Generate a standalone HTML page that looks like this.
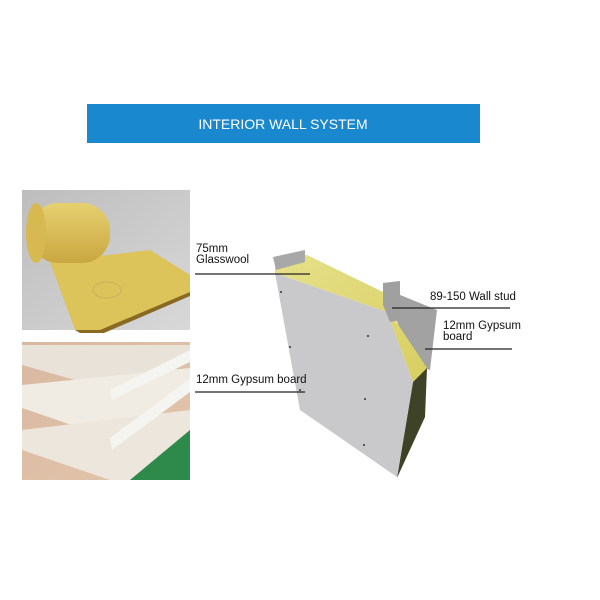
<!DOCTYPE html>
<html><head><style>
body{margin:0;width:600px;height:600px;background:#fff;overflow:hidden}
svg{display:block}
text{font-family:"Liberation Sans",sans-serif}
</style></head><body>
<svg width="600" height="600" viewBox="0 0 600 600">
<defs>
<linearGradient id="bg1" x1="0" y1="0" x2="1" y2="1"><stop offset="0" stop-color="#bdbdbd"/><stop offset="1" stop-color="#d8d8d8"/></linearGradient>
<linearGradient id="roll" x1="0" y1="0" x2="0" y2="1"><stop offset="0" stop-color="#e6d070"/><stop offset="1" stop-color="#c9a740"/></linearGradient>
<linearGradient id="gyp" x1="0" y1="0" x2="1" y2="1"><stop offset="0" stop-color="#d8b8a0"/><stop offset="1" stop-color="#e4c6ad"/></linearGradient>
<linearGradient id="yl" x1="0" y1="0" x2="1" y2="1"><stop offset="0" stop-color="#e6e08a"/><stop offset="1" stop-color="#d8cf60"/></linearGradient>
</defs>
<rect x="87" y="104" width="393" height="39" fill="#1a88cf"/>
<text x="283" y="129" font-size="14" fill="#fff" text-anchor="middle">INTERIOR WALL SYSTEM</text>
<!-- glasswool photo -->
<rect x="22" y="190" width="168" height="140" fill="url(#bg1)"/>
<polygon points="50,262 150,250 190,275 190,292 100,330 75,330" fill="#dcc45a"/>
<polygon points="75,330 100,330 190,292 190,296 104,333 80,333" fill="#8a6a20"/>
<rect x="30" y="203" width="80" height="60" rx="28" fill="url(#roll)"/>
<ellipse cx="36" cy="233" rx="10" ry="30" fill="#d8b850"/>
<ellipse cx="107" cy="290" rx="14" ry="8" fill="none" stroke="#c8b060"/>
<!-- gypsum photo -->
<rect x="22" y="342" width="168" height="138" fill="url(#gyp)"/>
<polygon points="22,345 190,345 190,350 110,390 22,365" fill="#e8e2d8"/>
<polygon points="22,385 190,368 190,378 110,438 22,408" fill="#f0ebe3"/>
<polygon points="22,430 190,410 190,480 110,480 22,450" fill="#ece6dc"/>
<polygon points="110,390 190,350 190,362 112,400" fill="#f4f4f0"/>
<polygon points="110,438 190,378 190,392 112,450" fill="#f4f4f0"/>
<polygon points="130,480 190,430 190,480" fill="#2e8a4a"/>
<!-- wall -->
<polygon points="383,288 437,310 430,370 415,365" fill="#a2a2a2"/>
<polygon points="275,260 307,255 383,292 393,317 427,368 413,382 387,312 275,273" fill="url(#yl)"/>
<polygon points="413,382 427,368 425,417 397,478" fill="#3e4226"/>
<polygon points="275,273 387,312 413,382 397,477 300,410" fill="#c9c9cb"/>
<polygon points="273,257 305,250 305,262 276,270" fill="#a8a8a8"/>
<polygon points="383,283 400,281 400,320 390,322 383,305" fill="#a0a0a0"/>
<g fill="#333"><circle cx="281" cy="292" r="1"/><circle cx="368" cy="336" r="1"/><circle cx="290" cy="347" r="1"/><circle cx="365" cy="399" r="1"/><circle cx="364" cy="445" r="1"/><circle cx="300" cy="390" r="1"/></g>
<!-- labels -->
<g font-size="11.5" fill="#111">
<text x="196" y="252">75mm</text><text x="196" y="263">Glasswool</text>
<text x="430" y="300">89-150 Wall stud</text>
<text x="443" y="329">12mm Gypsum</text><text x="443" y="340">board</text>
<text x="196" y="383">12mm Gypsum board</text>
</g>
<g stroke="#222" stroke-width="1.2">
<line x1="195" y1="274" x2="310" y2="274"/>
<line x1="392" y1="308" x2="510" y2="308"/>
<line x1="425" y1="349" x2="512" y2="349"/>
<line x1="195" y1="392" x2="305" y2="392"/>
</g>
</svg>
</body></html>
